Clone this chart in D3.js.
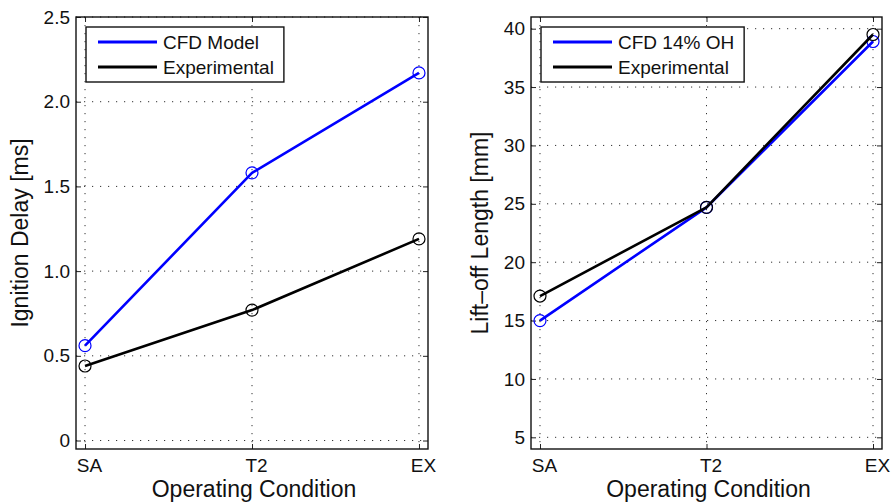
<!DOCTYPE html>
<html>
<head>
<meta charset="utf-8">
<script src="https://cdn.jsdelivr.net/npm/d3@7"></script>
<style>
  body { margin: 0; background: #fff; }
  svg { display: block; font-family: "Liberation Sans", Arial, Helvetica, sans-serif; }
</style>
</head>
<body>
<svg id="chart" width="894" height="504"></svg>
<script>
// values
var conditions = ["SA", "T2", "EX"]
var delayCfd = [0.56, 1.58, 2.17]
var delayExp = [0.44, 0.77, 1.19]
var liftCfd = [15.0, 24.7, 38.9]
var liftExp = [17.1, 24.7, 39.5]
var delayTicks = [0, 0.5, 1.0, 1.5, 2.0, 2.5]
var liftTicks = [5, 10, 15, 20, 25, 30, 35, 40]

var svg = d3.select("#chart")

function drawPanel(p) {
    var x = d3.scalePoint().domain(conditions).range([p.left, p.right]).padding(0.054)
    var y = d3.scaleLinear().domain(p.ydomain).range([p.bottom, p.top])
    var g = svg.append("g")

    // dotted grid
    g.append("g").selectAll("line").data(p.yticks).join("line")
        .attr("x1", p.left).attr("x2", p.right)
        .attr("y1", d => y(d)).attr("y2", d => y(d))
    g.append("g").selectAll("line").data(conditions).join("line")
        .attr("x1", d => x(d)).attr("x2", d => x(d))
        .attr("y1", p.top).attr("y2", p.bottom)
    g.selectAll("line")
        .attr("stroke", "#333").attr("stroke-width", 1)
        .attr("stroke-dasharray", "1.2,6.8")

    // axes, ticks inside like matlab
    var yl = g.append("g").attr("transform", `translate(${p.left},0)`)
        .call(d3.axisLeft(y).tickValues(p.yticks).tickFormat(p.fmt).tickSizeInner(-5).tickSizeOuter(0).tickPadding(6))
    var yr = g.append("g").attr("transform", `translate(${p.right},0)`)
        .call(d3.axisRight(y).tickValues(p.yticks).tickFormat("").tickSizeInner(-5).tickSizeOuter(0))
    var xb = g.append("g").attr("transform", `translate(0,${p.bottom})`)
        .call(d3.axisBottom(x).tickSizeInner(-5).tickSizeOuter(0).tickPadding(10))
    var xt = g.append("g").attr("transform", `translate(0,${p.top})`)
        .call(d3.axisTop(x).tickFormat("").tickSizeInner(-5).tickSizeOuter(0))
    g.selectAll(".domain").remove()
    g.selectAll(".tick line").attr("stroke", "#222").attr("stroke-width", 1)
    g.selectAll(".tick text").attr("font-size", 19).attr("fill", "#111")
        .attr("font-family", "Liberation Sans, Arial, sans-serif")
    xb.selectAll(".tick text").attr("dx", 4)

    g.append("rect")
        .attr("x", p.left).attr("y", p.top)
        .attr("width", p.right - p.left).attr("height", p.bottom - p.top)
        .attr("fill", "none").attr("stroke", "#111").attr("stroke-width", 1.4)

    // series
    var line = d3.line().x((d, i) => x(conditions[i])).y(d => y(d))
    p.series.forEach(function (s) {
        g.append("path").datum(s.values)
            .attr("d", line).attr("fill", "none")
            .attr("stroke", s.color).attr("stroke-width", 2.6)
            .attr("stroke-linejoin", "round")
        g.append("g").selectAll("circle").data(s.values).join("circle")
            .attr("cx", (d, i) => x(conditions[i]))
            .attr("cy", d => y(d))
            .attr("r", 6)
            .attr("fill", "none").attr("stroke", s.color).attr("stroke-width", 1.2)
    })

    // titles
    g.append("text")
        .attr("x", (p.left + p.right) / 2 + 2).attr("y", 497)
        .attr("text-anchor", "middle").attr("font-size", 23).attr("fill", "#111")
        .text("Operating Condition")
    g.append("text")
        .attr("transform", `translate(${p.ylabelX},${(p.top + p.bottom) / 2}) rotate(-90)`)
        .attr("text-anchor", "middle").attr("font-size", 23).attr("fill", "#111")
        .text(p.ylabel)

    // legend
    var lg = g.append("g").attr("transform", `translate(${p.left + 10},${p.top + 10})`)
    var box = lg.append("rect").attr("fill", "#fff").attr("stroke", "#111").attr("stroke-width", 1.4)
    var maxw = 0
    p.series.forEach(function (s, i) {
        lg.append("line")
            .attr("x1", 12).attr("x2", 71)
            .attr("y1", 15 + i * 25).attr("y2", 15 + i * 25)
            .attr("stroke", s.color).attr("stroke-width", 3)
        var t = lg.append("text")
            .attr("x", 77).attr("y", 15 + i * 25).attr("dy", "0.35em")
            .attr("font-size", 19).attr("fill", "#111")
            .text(s.name)
        maxw = Math.max(maxw, t.node().getComputedTextLength())
    })
    box.attr("x", 0).attr("y", 0).attr("width", 77 + maxw + 10).attr("height", 55)
}

drawPanel({
    left: 76, right: 428, top: 17, bottom: 449,
    ydomain: [-0.05, 2.5], yticks: delayTicks,
    fmt: d => d === 0 ? "0" : d3.format(".1f")(d),
    ylabel: "Ignition Delay [ms]", ylabelX: 28,
    series: [
        {name: "CFD Model", values: delayCfd, color: "#0000ff"},
        {name: "Experimental", values: delayExp, color: "#000"}
    ]
})

drawPanel({
    left: 531, right: 882, top: 17, bottom: 449,
    ydomain: [4, 41], yticks: liftTicks,
    fmt: d3.format("d"),
    ylabel: "Lift–off Length [mm]", ylabelX: 488,
    series: [
        {name: "CFD 14% OH", values: liftCfd, color: "#0000ff"},
        {name: "Experimental", values: liftExp, color: "#000"}
    ]
})
</script>
</body>
</html>
